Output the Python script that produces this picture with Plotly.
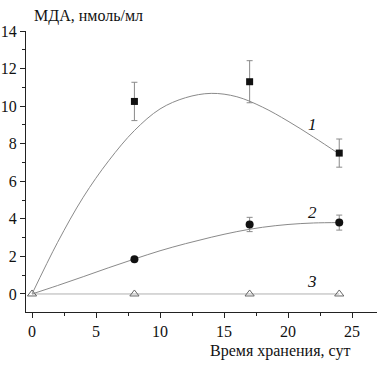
import plotly.graph_objects as go

# Measured points
days = [8, 17, 24]
mda_1 = [10.25, 11.3, 7.5]
err_1 = [1.02, 1.12, 0.75]
mda_2 = [1.85, 3.7, 3.8]
err_2 = [0.0, 0.38, 0.4]
days_3 = [0, 8, 17, 24]
mda_3 = [0, 0, 0, 0]

# Fitted curves
fit_x = [0, 2, 4, 6, 8, 10, 12, 14, 16, 18, 20, 22, 24]
fit_1 = [0, 2.75, 5.15, 7.1, 8.7, 9.85, 10.45, 10.68, 10.5, 9.95, 9.2, 8.35, 7.45]
fit_2 = [0, 0.45, 0.92, 1.4, 1.86, 2.3, 2.68, 3.02, 3.32, 3.55, 3.7, 3.78, 3.8]

curve_labels = ["1", "2", "3"]
label_x = [21.9, 21.9, 21.9]
label_y = [9.0, 4.32, 0.65]

x_ticks = [0, 5, 10, 15, 20, 25]
y_ticks = [0, 2, 4, 6, 8, 10, 12, 14]

FONT = "Liberation Serif"
GRAY = "#8a8a8a"

fig = go.Figure()
fig.add_trace(go.Scatter(x=fit_x, y=fit_1, mode="lines", line=dict(color=GRAY, width=1, shape="spline"),
                         hoverinfo="skip"))
fig.add_trace(go.Scatter(x=fit_x, y=fit_2, mode="lines", line=dict(color=GRAY, width=1, shape="spline"),
                         hoverinfo="skip"))
fig.add_trace(go.Scatter(x=days_3, y=mda_3, mode="lines+markers",
                         line=dict(color="#b0b0b0", width=1),
                         marker=dict(symbol="triangle-up-open", size=8, color="#666666", line=dict(width=1))))
fig.add_trace(go.Scatter(x=days, y=mda_1, mode="markers",
                         marker=dict(symbol="square", size=7, color="#111111"),
                         error_y=dict(type="data", array=err_1, color=GRAY, thickness=1, width=3)))
fig.add_trace(go.Scatter(x=days, y=mda_2, mode="markers",
                         marker=dict(symbol="circle", size=8, color="#111111"),
                         error_y=dict(type="data", array=err_2, color=GRAY, thickness=1, width=3)))

for t, xx, yy in zip(curve_labels, label_x, label_y):
    fig.add_annotation(x=xx, y=yy, text="<i>" + t + "</i>", showarrow=False, xref="x", yref="y",
                       font=dict(family=FONT, size=17, color="#111111"), xanchor="center", yanchor="middle")

fig.add_annotation(x=0, xref="x", y=1, yref="paper", yshift=4, text="МДА, нмоль/мл", showarrow=False,
                   xanchor="left", yanchor="bottom", font=dict(family=FONT, size=16, color="#111111"))
fig.add_annotation(x=25, xref="x", y=0, yref="paper", yshift=-28, text="Время хранения, сут", showarrow=False,
                   xanchor="right", yanchor="top", font=dict(family=FONT, size=16, color="#111111"))

axis_common = dict(showline=True, linecolor="#222222", linewidth=1, ticks="outside", ticklen=5,
                   tickcolor="#222222", tickwidth=1, showgrid=False, zeroline=False, automargin=False,
                   tickfont=dict(family=FONT, size=16, color="#111111"))
fig.update_xaxes(range=[-0.47, 26.95], tickvals=x_ticks, ticktext=[str(v) for v in x_ticks],
                 minor=dict(ticks="outside", ticklen=3, tickcolor="#222222", dtick=2.5, tick0=0),
                 **axis_common)
fig.update_yaxes(range=[-0.96, 14], tickvals=y_ticks, ticktext=[str(v) for v in y_ticks],
                 minor=dict(ticks="outside", ticklen=3, tickcolor="#222222", dtick=1, tick0=0),
                 **axis_common)
fig.update_layout(width=385, height=365, margin=dict(l=26, r=8, t=31, b=53),
                  plot_bgcolor="white", paper_bgcolor="white", showlegend=False,
                  font=dict(family=FONT))
fig.write_html("out.html", config={"displayModeBar": False},
               post_script="document.body.style.margin='0';document.body.style.overflow='hidden';")
